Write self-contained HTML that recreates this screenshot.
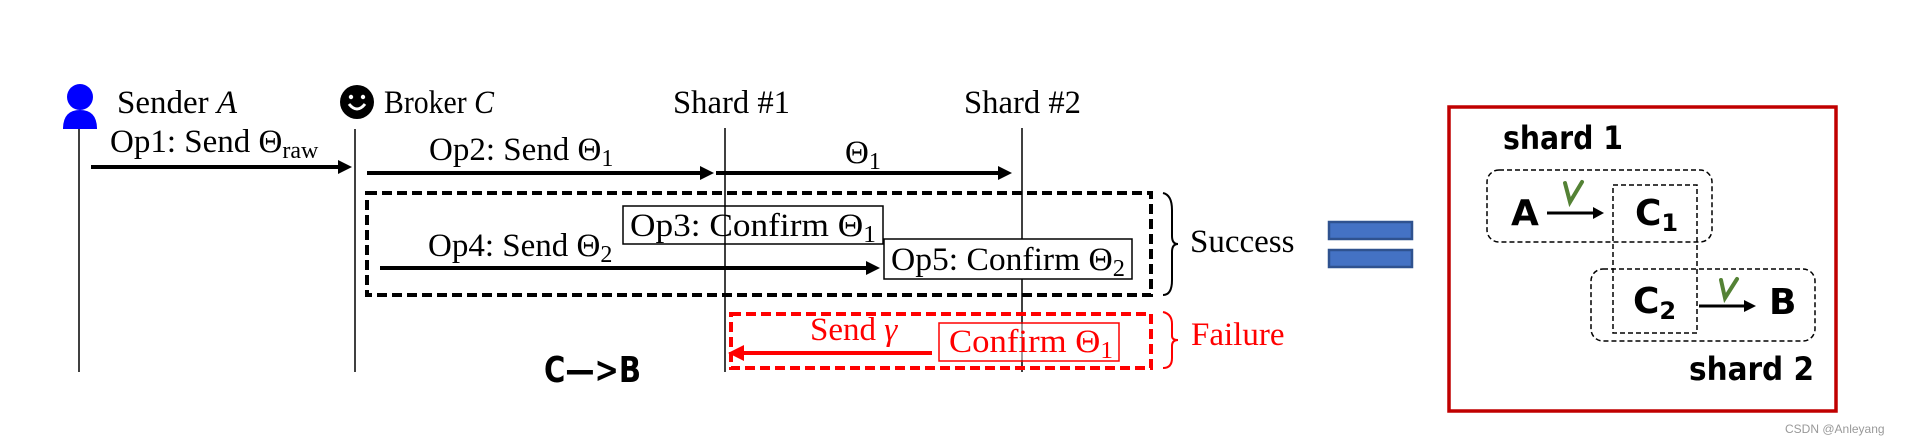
<!DOCTYPE html>
<html><head><meta charset="utf-8"><style>
html,body{margin:0;padding:0;background:#fff;}
svg{display:block}
.t{font-family:"Liberation Serif",serif;font-size:33px;fill:#000}
.c{font-family:"Comic Sans MS","DejaVu Sans",sans-serif;font-weight:bold;fill:#000}
</style></head><body>
<svg width="1910" height="444" viewBox="0 0 1910 444" xmlns="http://www.w3.org/2000/svg">
<circle cx="80" cy="97" r="13" fill="#0000ff"/>
<path d="M63,129 Q63,110 80,110 Q97,110 97,129 Z" fill="#0000ff"/>
<circle cx="357" cy="102" r="17" fill="#000"/>
<circle cx="351" cy="97" r="2.2" fill="#fff"/><circle cx="363" cy="97" r="2.2" fill="#fff"/>
<path d="M349,104 Q357,114 365,104" stroke="#fff" stroke-width="3" fill="none"/>
<text class="t" x="117" y="113" textLength="120" lengthAdjust="spacingAndGlyphs">Sender <tspan font-style="italic">A</tspan></text>
<text class="t" x="384" y="113" textLength="110" lengthAdjust="spacingAndGlyphs">Broker <tspan font-style="italic">C</tspan></text>
<text class="t" x="673" y="113" textLength="117" lengthAdjust="spacingAndGlyphs">Shard #1</text>
<text class="t" x="964" y="113" textLength="117" lengthAdjust="spacingAndGlyphs">Shard #2</text>
<g stroke="#000" stroke-width="1.5">
<line x1="79" y1="129" x2="79" y2="372"/>
<line x1="355" y1="129" x2="355" y2="372"/>
<line x1="725" y1="128" x2="725" y2="372"/>
<line x1="1022" y1="128" x2="1022" y2="372"/>
</g>
<g stroke="#000" stroke-width="4">
<line x1="91" y1="167" x2="340" y2="167"/>
<line x1="367" y1="173" x2="702" y2="173"/>
<line x1="716" y1="173" x2="1000" y2="173"/>
<line x1="380" y1="268" x2="868" y2="268"/>
</g>
<g fill="#000">
<path d="M338,160 L352,167 L338,174 Z"/>
<path d="M700,166 L714,173 L700,180 Z"/>
<path d="M998,166 L1012,173 L998,180 Z"/>
<path d="M866,261 L880,268 L866,275 Z"/>
</g>
<text class="t" x="110" y="152">Op1: Send Θ<tspan font-size="24" dy="6">raw</tspan></text>
<text class="t" x="429" y="160">Op2: Send Θ<tspan font-size="24" dy="6">1</tspan></text>
<text class="t" x="845" y="163">Θ<tspan font-size="24" dy="6">1</tspan></text>
<rect x="367" y="193" width="784" height="102" fill="none" stroke="#000" stroke-width="4" stroke-dasharray="10,5"/>
<rect x="623" y="206" width="260" height="38" fill="#fff" stroke="#000" stroke-width="1.5"/>
<line x1="725" y1="206" x2="725" y2="244" stroke="#000" stroke-width="1.5"/>
<text class="t" x="630" y="236" textLength="246" lengthAdjust="spacingAndGlyphs">Op3: Confirm Θ<tspan font-size="24" dy="6">1</tspan></text>
<text class="t" x="428" y="256">Op4: Send Θ<tspan font-size="24" dy="6">2</tspan></text>
<rect x="884" y="239" width="248" height="40" fill="#fff" stroke="#000" stroke-width="1.5"/>
<text class="t" x="891" y="270" textLength="234" lengthAdjust="spacingAndGlyphs">Op5: Confirm Θ<tspan font-size="24" dy="6">2</tspan></text>
<path d="M1163,193 Q1172,195 1172,210 L1172,236 Q1172,244 1178,244 Q1172,244 1172,252 L1172,280 Q1172,295 1163,295" fill="none" stroke="#000" stroke-width="2"/>
<text class="t" x="1190" y="252">Success</text>
<rect x="731" y="314" width="420" height="54" fill="none" stroke="#ff0000" stroke-width="4" stroke-dasharray="10,5"/>
<line x1="742" y1="353" x2="932" y2="353" stroke="#ff0000" stroke-width="4"/>
<path d="M744,345 L728,353 L744,361 Z" fill="#ff0000"/>
<text class="t" x="810" y="340" style="fill:#ff0000">Send <tspan font-style="italic">γ</tspan></text>
<rect x="939" y="323" width="180" height="38" fill="#fff" stroke="#ff0000" stroke-width="1.5"/>
<line x1="1022" y1="323" x2="1022" y2="361" stroke="#000" stroke-width="1.5" opacity="0.5"/>
<text class="t" x="949" y="352" style="fill:#ff0000" textLength="164" lengthAdjust="spacingAndGlyphs">Confirm Θ<tspan font-size="24" dy="6">1</tspan></text>
<path d="M1163,312 Q1172,314 1172,324 L1172,336 Q1172,340 1178,340 Q1172,340 1172,346 L1172,358 Q1172,368 1163,368" fill="none" stroke="#ff0000" stroke-width="2"/>
<text class="t" x="1191" y="345" style="fill:#ff0000">Failure</text>
<text class="c" x="544" y="382" font-size="36" textLength="97" lengthAdjust="spacingAndGlyphs">C—&gt;B</text>
<rect x="1329" y="222" width="83" height="17" fill="#4472c4" stroke="#2f528f" stroke-width="2.5"/>
<rect x="1329" y="250" width="83" height="17" fill="#4472c4" stroke="#2f528f" stroke-width="2.5"/>
<rect x="1449" y="107" width="387" height="304" fill="none" stroke="#c00000" stroke-width="3.5"/>
<text class="c" x="1503" y="149" font-size="32" textLength="120" lengthAdjust="spacingAndGlyphs">shard 1</text>
<text class="c" x="1689" y="380" font-size="32" textLength="125" lengthAdjust="spacingAndGlyphs">shard 2</text>
<rect x="1487" y="170" width="225" height="72" rx="12" fill="none" stroke="#000" stroke-width="1.5" stroke-dasharray="5,3"/>
<rect x="1591" y="269" width="224" height="72" rx="12" fill="none" stroke="#000" stroke-width="1.5" stroke-dasharray="5,3"/>
<rect x="1613" y="185" width="84" height="148" fill="none" stroke="#000" stroke-width="1.5" stroke-dasharray="5,3"/>
<text class="c" x="1511" y="225" font-size="36">A</text>
<text class="c" x="1635" y="225" font-size="36">C<tspan font-size="24" dy="6">1</tspan></text>
<text class="c" x="1633" y="313" font-size="36">C<tspan font-size="24" dy="6">2</tspan></text>
<text class="c" x="1769" y="314" font-size="36">B</text>
<line x1="1547" y1="213" x2="1595" y2="213" stroke="#000" stroke-width="3"/>
<path d="M1593,207 L1604,213 L1593,219 Z" fill="#000"/>
<line x1="1699" y1="306" x2="1746" y2="306" stroke="#000" stroke-width="3"/>
<path d="M1744,300 L1756,306 L1744,312 Z" fill="#000"/>
<path d="M1565,183 L1570,202 L1582,182" fill="none" stroke="#548235" stroke-width="4" stroke-linecap="round"/>
<path d="M1721,280 L1725,298 L1737,279" fill="none" stroke="#548235" stroke-width="4" stroke-linecap="round"/>
<text x="1785" y="433" font-family="Liberation Sans, sans-serif" font-size="12" fill="#999">CSDN @Anleyang</text>
</svg>
</body></html>
